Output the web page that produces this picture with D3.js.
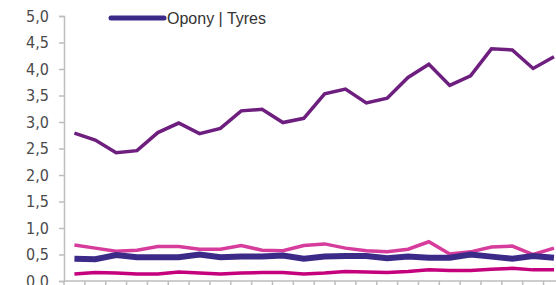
<!DOCTYPE html>
<html>
<head>
<meta charset="utf-8">
<script src="https://cdn.jsdelivr.net/npm/d3@7"></script>
<style>
  html, body { margin: 0; padding: 0; background: #fff; }
  svg { display: block; }
</style>
</head>
<body>
<div id="chart"></div>
<script>
// values, one per period
const periods = d3.range(24).map(i => 'P' + (i + 1));
const seriesTop = [2.79, 2.66, 2.42, 2.46, 2.80, 2.98, 2.78, 2.88, 3.21, 3.24, 2.99, 3.07, 3.53, 3.62, 3.36, 3.45, 3.84, 4.09, 3.69, 3.87, 4.38, 4.36, 4.01, 4.23];
const seriesPink = [0.68, 0.62, 0.56, 0.58, 0.65, 0.65, 0.60, 0.60, 0.67, 0.58, 0.57, 0.67, 0.70, 0.62, 0.57, 0.55, 0.60, 0.74, 0.51, 0.55, 0.64, 0.66, 0.50, 0.62];
const tyres = [0.42, 0.41, 0.49, 0.45, 0.45, 0.45, 0.50, 0.45, 0.46, 0.46, 0.48, 0.42, 0.46, 0.47, 0.47, 0.43, 0.46, 0.44, 0.44, 0.50, 0.46, 0.42, 0.47, 0.44];
const seriesLow = [0.13, 0.16, 0.15, 0.13, 0.13, 0.17, 0.15, 0.13, 0.15, 0.16, 0.16, 0.13, 0.15, 0.18, 0.17, 0.16, 0.18, 0.21, 0.20, 0.20, 0.22, 0.24, 0.21, 0.21];
const yTicks = [0, 0.5, 1, 1.5, 2, 2.5, 3, 3.5, 4, 4.5, 5];

const width = 556, height = 285;
const left = 64, bandW = 20.85, zeroY = 281, topY = 16;

const svg = d3.select('#chart').append('svg')
  .attr('width', width).attr('height', height);

const x = d3.scaleBand().domain(periods).range([left, left + bandW * periods.length]);
const y = d3.scaleLinear().domain([0, 5]).range([zeroY, topY]);

// y axis
const yAxis = svg.append('g')
  .attr('transform', 'translate(' + left + ',0)')
  .call(d3.axisLeft(y).tickValues(yTicks).tickSize(5).tickPadding(10)
    .tickFormat(d => d3.format('.1f')(d).replace('.', ',')));
yAxis.select('.domain').attr('stroke', '#bdbdbd').attr('stroke-width', 1.5);
yAxis.selectAll('.tick line').attr('stroke', '#bdbdbd').attr('stroke-width', 1.5);
yAxis.selectAll('.tick text')
  .attr('fill', '#4a4a4a')
  .style('font-family', '"Liberation Sans Narrow", "DejaVu Sans Condensed", sans-serif')
  .style('font-size', '16px');

// x axis: ticks at band boundaries
const xg = svg.append('g');
xg.append('line')
  .attr('x1', left).attr('x2', width)
  .attr('y1', zeroY).attr('y2', zeroY)
  .attr('stroke', '#bdbdbd').attr('stroke-width', 1.5);
xg.selectAll('line.tk')
  .data(periods.concat(['end']))
  .join('line')
  .attr('class', 'tk')
  .attr('x1', (d, i) => left + i * x.bandwidth())
  .attr('x2', (d, i) => left + i * x.bandwidth())
  .attr('y1', zeroY).attr('y2', zeroY + 5)
  .attr('stroke', '#bdbdbd').attr('stroke-width', 1.5);

const line = d3.line()
  .x((d, i) => x(periods[i]) + x.bandwidth() / 2)
  .y(d => y(d));

const series = [
  { values: seriesLow, color: '#c5007d', w: 3.5 },
  { values: seriesPink, color: '#d63c9b', w: 3.5 },
  { values: tyres, color: '#3b2a88', w: 6 },
  { values: seriesTop, color: '#6d1e7e', w: 3.5 },
];

svg.append('g').selectAll('path')
  .data(series)
  .join('path')
  .attr('d', d => line(d.values))
  .attr('fill', 'none')
  .attr('stroke', d => d.color)
  .attr('stroke-width', d => d.w)
  .attr('stroke-linejoin', 'miter');

// legend
const lg = svg.append('g');
lg.append('line')
  .attr('x1', 111).attr('x2', 164).attr('y1', 18).attr('y2', 18)
  .attr('stroke', '#3b2a88').attr('stroke-width', 5).attr('stroke-linecap', 'round');
lg.append('text')
  .attr('x', 167).attr('y', 24)
  .attr('fill', '#333')
  .style('font-family', '"Liberation Sans", Arial, sans-serif')
  .style('font-size', '16px')
  .text('Opony | Tyres');
</script>
</body>
</html>
